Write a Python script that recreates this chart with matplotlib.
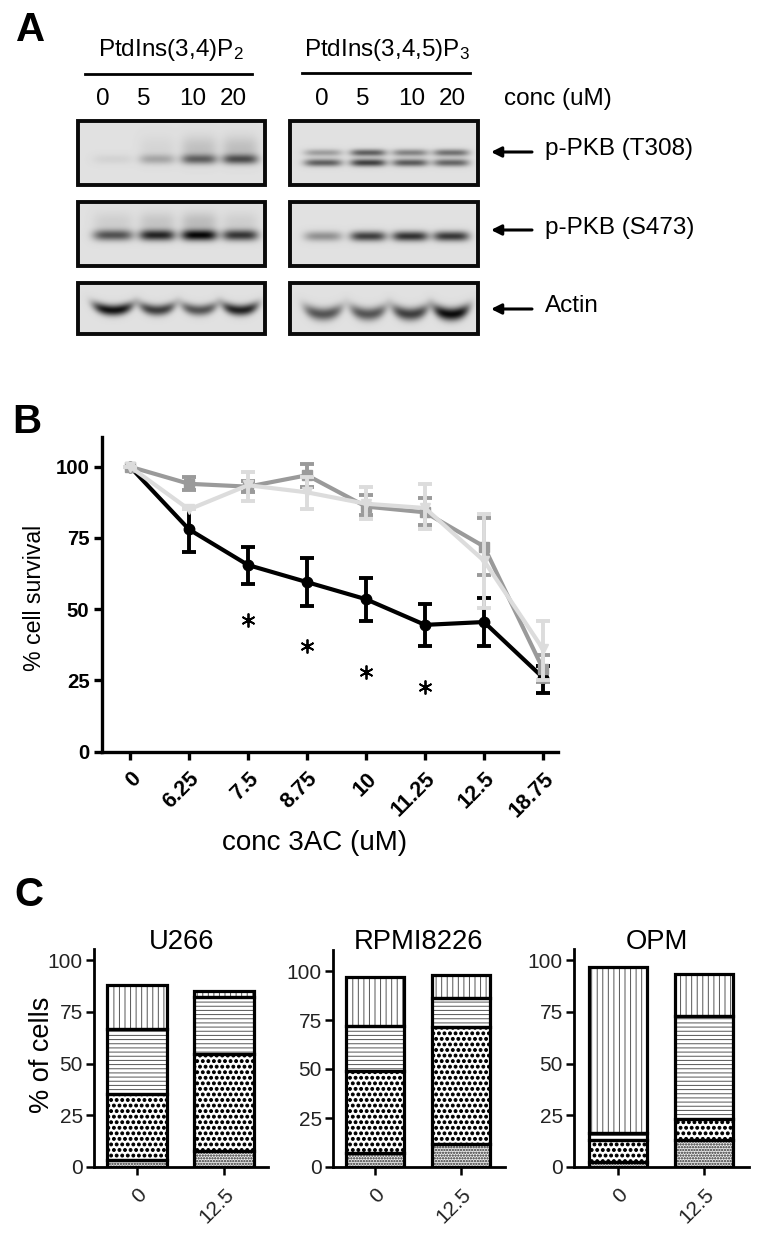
import numpy as np
import matplotlib
matplotlib.use("Agg")
import matplotlib.pyplot as plt
import matplotlib.hatch as mhatch
from matplotlib.patches import Rectangle

plt.rcParams['font.family'] = ['Liberation Sans', 'DejaVu Sans']
plt.rcParams['mathtext.default'] = 'regular'
plt.rcParams['hatch.linewidth'] = 0.7
mhatch.SmallFilledCircles.size = 0.26

W, H = 764, 1236

# ---- Panel A: blot band intensities per lane
conc_labels = ['0', '5', '10', '20']
blot_t308_left = [0.06, 0.24, 0.52, 0.60]
blot_t308_left_smear = [0.0, 0.05, 0.14, 0.15]
blot_t308_right_upper = [0.30, 0.58, 0.42, 0.50]
blot_t308_right_lower = [0.58, 0.72, 0.60, 0.55]
blot_s473_left = [0.62, 0.82, 0.95, 0.75]
blot_s473_left_smear = [0.08, 0.12, 0.16, 0.08]
blot_s473_right = [0.35, 0.72, 0.78, 0.75]
blot_actin_left = [0.92, 0.72, 0.62, 0.85]
blot_actin_right = [0.62, 0.62, 0.72, 0.95]

# ---- Panel B
dose_labels = ['0', '6.25', '7.5', '8.75', '10', '11.25', '12.5', '18.75']
black_mean = [100, 78, 65.5, 59.5, 53.5, 44.5, 45.5, 26]
black_low = [100, 70, 59, 51, 46, 37, 37, 20.5]
black_high = [100, 85.5, 72, 68, 61, 52, 54, 30]
dark_mean = [100, 94, 93, 97, 86, 84, 72, 29]
dark_low = [100, 92, 91, 93, 83, 79.5, 62, 24.5]
dark_high = [100, 96.5, 95, 101, 90, 89, 82, 34]
light_mean = [100, 85, 93.5, 91, 87, 85.5, 67, 36]
light_low = [100, 85, 88, 85, 81.5, 78, 50.5, 25]
light_high = [100, 85, 98, 96.5, 93, 94, 83.5, 46]
sig_idx = [2, 3, 4, 5]
sig_y = [46.2, 37, 27.8, 22.6]

# ---- Panel C (segments bottom to top)
group_labels = ['0', '12.5']
cell_lines = ['U266', 'RPMI8226', 'OPM']
seg_u266 = [[3.5, 32, 31, 21.5], [7.5, 47, 27.5, 3]]
seg_rpmi = [[7, 42, 23, 25], [11.5, 60, 14.5, 12]]
seg_opm = [[2.5, 10.5, 3.5, 80], [13, 10, 50, 20]]


def px_axes(l, t, r, b, **kw):
    return fig.add_axes([l / W, 1 - b / H, (r - l) / W, (b - t) / H], **kw)


fig = plt.figure(figsize=(W / 100, H / 100), dpi=100, facecolor='white')
bg = px_axes(0, 0, W, H)
bg.set_xlim(0, W)
bg.set_ylim(H, 0)
bg.axis('off')


def blot(x0, x1, y0, y1, lanes):
    """lanes: (x centre, half width, y centre, thickness, intensity, curvature)"""
    xs = np.arange(x0, x1, 0.5)
    ys = np.arange(y0, y1, 0.5)
    X, Y = np.meshgrid(xs, ys)
    D = np.zeros_like(X)
    for cx, hw, cy, th, amp, cur in lanes:
        u = (X - cx) / hw
        D += amp * np.exp(-u ** 4) * np.exp(-((Y - cy - cur * (1 - u ** 2)) / th) ** 2)
    img = 0.88 * (1 - np.clip(D, 0, 0.97))
    bg.imshow(img, extent=(x0, x1, y1, y0), cmap='gray', vmin=0, vmax=1,
              aspect='auto', interpolation='bilinear', zorder=1)
    bg.add_patch(Rectangle((x0, y0), x1 - x0, y1 - y0, fill=False, ec='#0a0a0a',
                           lw=2.8, zorder=2))


lanes_l = [(113, 20, 1.0), (157, 18, 1.0), (199, 18, 1.0), (240, 18, 1.0)]
lanes_r = [(323, 19, 1.0), (368, 18, 1.0), (410, 18, 1.0), (451, 18, 1.0)]


def row(lanes, vals, cy, th, cur=0):
    return [(c, hw, cy, th, v, cur) for (c, hw, _), v in zip(lanes, vals)]


blot(78, 265, 121, 185, row(lanes_l, blot_t308_left, 159, 5) +
     row(lanes_l, blot_t308_left_smear, 148, 12))
blot(290, 478, 121, 185, row(lanes_r, blot_t308_right_upper, 152.5, 3.5) +
     row(lanes_r, blot_t308_right_lower, 162.5, 3.8))
blot(78, 265, 202, 266, row(lanes_l, blot_s473_left, 235, 5.5) +
     row(lanes_l, blot_s473_left_smear, 222, 10))
blot(290, 478, 202, 266, row(lanes_r, blot_s473_right, 236, 5))
blot(78, 265, 283, 334, row(lanes_l, blot_actin_left, 305, 5.5, 5))
blot(290, 478, 283, 334, row(lanes_r, blot_actin_right, 308, 6.5, 6))
bg.set_xlim(0, W)
bg.set_ylim(H, 0)

fs_a = 17.5
bg.text(16, 30, 'A', fontsize=29, fontweight='bold', va='center', ha='left')
bg.text(12, 422, 'B', fontsize=29, fontweight='bold', va='center', ha='left')
bg.text(14, 895, 'C', fontsize=29, fontweight='bold', va='center', ha='left')
bg.text(171, 50, r'PtdIns(3,4)P$_2$', fontsize=fs_a, ha='center', va='center')
bg.text(387, 50, r'PtdIns(3,4,5)P$_3$', fontsize=fs_a, ha='center', va='center')
bg.plot([85, 252], [74, 74], color='black', lw=2)
bg.plot([302, 470], [73, 73], color='black', lw=2)
for xs_lab in ([103, 144, 193, 233], [322, 363, 412, 452]):
    for x, lab in zip(xs_lab, conc_labels):
        bg.text(x, 99, lab, fontsize=fs_a, ha='center', va='center')
bg.text(504, 99, 'conc (uM)', fontsize=fs_a, ha='left', va='center')
for y, lab in zip([149, 228, 306], ['p-PKB (T308)', 'p-PKB (S473)', 'Actin']):
    bg.text(545, y, lab, fontsize=fs_a, ha='left', va='center')
for y in [152, 230, 309]:
    bg.annotate('', xy=(491, y), xytext=(532, y),
                arrowprops=dict(arrowstyle='-|>,head_length=0.6,head_width=0.3',
                                color='black', lw=2.2, shrinkA=0, shrinkB=0))
bg.text(35, 598, '% cell survival', fontsize=16.7, rotation=90, ha='center', va='center')
bg.text(315, 843, 'conc 3AC (uM)', fontsize=20, ha='center', va='center')
bg.text(42, 1055, '% of cells', fontsize=19.5, rotation=90, ha='center', va='center')

# ---- Panel B
ax = px_axes(102, 437, 558, 751.7)
ax.patch.set_alpha(0)
ax.set_xlim((102 - 130) / 59, (558 - 130) / 59)
ax.set_ylim(0, (751.7 - 437) / 2.85)
pos = np.arange(len(dose_labels))
for mean, low, high, color, marker, z in [
    (black_mean, black_low, black_high, 'black', 'o', 3),
    (dark_mean, dark_low, dark_high, '#9a9a9a', 's', 4),
    (light_mean, light_low, light_high, '#dcdcdc', 'v', 5),
]:
    m, lo, hi = map(np.array, (mean, low, high))
    ax.errorbar(pos, m, yerr=[m - lo, hi - m], color=color, lw=3, elinewidth=2.8,
                capsize=5.2, capthick=2.8, marker=marker, ms=7.5, zorder=z, clip_on=False)
ax.plot(pos[sig_idx], sig_y, ls='none', marker=(6, 2, 0), ms=10, mew=1.3, color='black')
ax.set_xticks(pos)
ax.set_xticklabels(dose_labels, rotation=45, ha='right', rotation_mode='anchor',
                   fontsize=15.5, fontweight='bold')
ax.set_yticks([0, 25, 50, 75, 100])
ax.set_yticklabels(['0', '25', '50', '75', '100'], fontsize=14.7, fontweight='bold')
ax.tick_params(length=6, width=2.4, pad=3)
ax.tick_params(axis='x', pad=6)
for s in ['top', 'right']:
    ax.spines[s].set_visible(False)
for s in ['left', 'bottom']:
    ax.spines[s].set_linewidth(2.4)

# ---- Panel C
hatches = ['......', '...', '----', '|||']
hatch_cols = ['#666666', 'black', '#555555', '#555555']
layouts = [
    (94, 268, 949, 960, 137, 87),
    (333, 505, 950, 971, 375, 86),
    (574, 749, 949, 960, 618, 86),
]
for name, segs, (l, r, t, y100, t0, dx) in zip(cell_lines, [seg_u266, seg_rpmi, seg_opm], layouts):
    a = px_axes(l, t, r, 1167)
    a.patch.set_alpha(0)
    a.set_xlim((l - t0) / dx, (r - t0) / dx)
    a.set_ylim(0, (1167 - t) / ((1167 - y100) / 100))
    xp = np.arange(len(group_labels))
    arr = np.array(segs, dtype=float)
    bottom = np.zeros(len(group_labels))
    for k in range(arr.shape[1]):
        a.bar(xp, arr[:, k], 0.68, bottom=bottom, facecolor='white', hatch=hatches[k],
              edgecolor=hatch_cols[k], lw=0, zorder=2)
        a.bar(xp, arr[:, k], 0.68, bottom=bottom, fill=False, edgecolor='black',
              lw=2.3, zorder=3)
        bottom += arr[:, k]
    a.set_xticks(xp)
    a.set_xticklabels(group_labels, rotation=45, ha='right', rotation_mode='anchor', fontsize=15,
                      color='#222222')
    a.set_yticks([0, 25, 50, 75, 100])
    a.set_yticklabels(['0', '25', '50', '75', '100'], fontsize=15, color='#222222')
    a.tick_params(length=6, width=1.8, pad=2)
    a.tick_params(axis='x', pad=7)
    for s in ['top', 'right']:
        a.spines[s].set_visible(False)
    for s in ['left', 'bottom']:
        a.spines[s].set_linewidth(2.0)
    bg.text({'U266': 182, 'RPMI8226': 419, 'OPM': 657}[name], 942, name, fontsize=19.7,
            ha='center', va='center')

fig.savefig('out.png', dpi=100)
